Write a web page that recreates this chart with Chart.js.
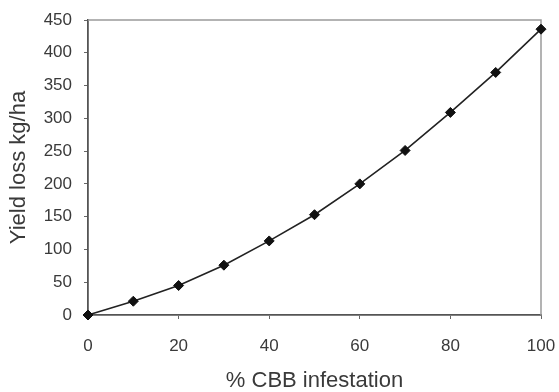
<!DOCTYPE html>
<html>
<head>
<meta charset="utf-8">
<script src="https://cdn.jsdelivr.net/npm/chart.js@4"></script>
<style>
  html, body { margin: 0; padding: 0; background: #fff; }
</style>
</head>
<body>
<canvas id="grafica" width="559" height="392"></canvas>
<script>
// values
const infestation = [0, 10, 20, 30, 40, 50, 60, 70, 80, 90, 100];
const yieldLoss = [0, 21, 45, 76, 113, 153, 200, 251, 309, 370, 436];
const xTickValues = [0, 20, 40, 60, 80, 100];
const yTickValues = [0, 50, 100, 150, 200, 250, 300, 350, 400, 450];

const txt = '#3a3a3a';

// light box around the plot (top and right edges)
const frame = {
  id: 'frame',
  beforeDatasetsDraw(chart) {
    const a = chart.chartArea, c = chart.ctx;
    c.save();
    c.strokeStyle = '#9a9a9a';
    c.lineWidth = 1.5;
    c.beginPath();
    c.moveTo(a.left, a.top);
    c.lineTo(a.right, a.top);
    c.lineTo(a.right, a.bottom);
    c.stroke();
    c.restore();
  }
};

document.addEventListener("DOMContentLoaded", function () {
  const ctx = document.getElementById('grafica').getContext('2d');

  new Chart(ctx, {
    type: 'line',
    data: {
      datasets: [{
        data: infestation.map((x, i) => ({ x: x, y: yieldLoss[i] })),
        borderColor: '#222',
        borderWidth: 1.6,
        backgroundColor: '#111',
        pointStyle: 'rectRot',
        pointRadius: 5,
        pointBorderWidth: 1,
        pointBorderColor: '#111',
        tension: 0,
        clip: false
      }]
    },
    options: {
      responsive: false,
      animation: false,
      layout: { padding: { top: 20, right: 18, left: 0, bottom: 0 } },
      plugins: { legend: { display: false }, tooltip: { enabled: false } },
      scales: {
        x: {
          type: 'linear',
          min: 0, max: 100,
          afterBuildTicks: s => { s.ticks = xTickValues.map(v => ({ value: v })); },
          afterFit: s => { s.height = 77; s.paddingLeft = 0; s.paddingRight = 0; },
          grid: { drawOnChartArea: false, drawTicks: true, tickLength: 4, color: '#666' },
          border: { color: '#555', width: 1.8 },
          ticks: { color: txt, padding: 17, font: { family: 'Liberation Sans', size: 17 } },
          title: {
            display: true, text: '% CBB infestation', color: txt,
            font: { family: 'Liberation Sans', size: 22, lineHeight: 1 },
            padding: { top: 0, bottom: 0 }
          }
        },
        y: {
          min: 0, max: 450,
          afterBuildTicks: s => { s.ticks = yTickValues.map(v => ({ value: v })); },
          afterFit: s => { s.width = 88; s.paddingTop = 0; s.paddingBottom = 0; },
          grid: { drawOnChartArea: false, drawTicks: true, tickLength: 4, color: '#666' },
          border: { color: '#555', width: 1.8 },
          ticks: { color: txt, padding: 12, font: { family: 'Liberation Sans', size: 17 } },
          title: {
            display: true, text: 'Yield loss kg/ha', color: txt,
            font: { family: 'Liberation Sans', size: 22, lineHeight: 1 },
            padding: { top: 8, bottom: 0 }
          }
        }
      }
    },
    plugins: [frame]
  });
});
</script>
</body>
</html>
